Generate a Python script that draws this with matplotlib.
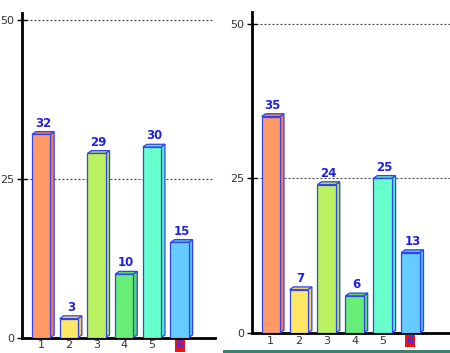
import matplotlib
matplotlib.use("Agg")
import matplotlib.pyplot as plt
from matplotlib.patches import Polygon, Rectangle

# data
categories = ["1", "2", "3", "4", "5", "6"]
left_values = [32, 3, 29, 10, 30, 15]
right_values = [35, 7, 24, 6, 25, 13]
y_ticks = [0, 25, 50]

front_colors = ["#ff9966", "#ffe766", "#bbf060", "#66ee77", "#66ffcc", "#66ccff"]
side_colors = ["#f08050", "#f0d050", "#a8e050", "#55dd66", "#55eebb", "#55bbf0"]
edge_col = "#3344ee"

W, H = 450, 353
fig = plt.figure(figsize=(W / 100, H / 100), dpi=100)
fig.patch.set_facecolor("white")


def px_axes(left, right, top, bottom):
    # pixel box (from top-left) -> figure fraction
    return fig.add_axes([left / W, (H - bottom) / H, (right - left) / W, (bottom - top) / H])


def draw_chart(ax, values, xlim, ylim, grid_right, px_per_x, px_per_y):
    ax.set_xlim(*xlim)
    ax.set_ylim(*ylim)
    w = 0.655
    dx = 4.0 / px_per_x
    dy = 2.8 / px_per_y
    for i, v in enumerate(values):
        x = i + 1
        x0, x1 = x - w / 2, x + w / 2
        side = Polygon([(x1, 0), (x1 + dx, dy), (x1 + dx, v + dy), (x1, v)],
                       closed=True, facecolor=side_colors[i], edgecolor=edge_col, lw=0.9, zorder=3)
        top = Polygon([(x0, v), (x0 + dx, v + dy), (x1 + dx, v + dy), (x1, v)],
                      closed=True, facecolor=side_colors[i], edgecolor=edge_col, lw=0.9, zorder=3)
        front = Rectangle((x0, 0), w, v, facecolor=front_colors[i], edgecolor=edge_col, lw=0.9, zorder=4)
        ax.add_patch(side)
        ax.add_patch(top)
        ax.add_patch(front)
        ax.text(x + dx / 2, v + dy + 0.3, str(v), ha="center", va="bottom",
                color="#2222dd", fontsize=8.5, fontweight="bold", zorder=5)

    for g in (25, 50):
        ax.plot([xlim[0], grid_right], [g, g], color="#444444", lw=0.8,
                ls=(0, (1.8, 1.8)), zorder=1, clip_on=False)

    for s in ("top", "right"):
        ax.spines[s].set_visible(False)
    ax.spines["left"].set_linewidth(2)
    ax.spines["bottom"].set_linewidth(2)
    ax.set_yticks(y_ticks)
    ax.set_yticklabels([str(t) for t in y_ticks], fontsize=8, color="#333333")
    ax.tick_params(axis="y", direction="inout", length=7, width=1, pad=2)
    ax.set_xticks(range(1, len(categories) + 1))
    ax.set_xticklabels(categories, fontsize=8, color="#333333")
    ax.tick_params(axis="x", length=0, pad=2)
    lab = ax.get_xticklabels()[-1]
    lab.set_color("#3030ff")
    lab.set_fontweight("bold")
    lab.set_bbox(dict(facecolor="#ee1111", edgecolor="none", pad=0.8))
    ax.patch.set_alpha(0)


# left chart
ax1 = px_axes(22, 215, 13, 337.7)
draw_chart(ax1, left_values, (0.31, 7.28), (0, 51.1), 7.2, 27.7, 317.7 / 50)

# right chart
ax2 = px_axes(251.7, 450, 12, 333)
draw_chart(ax2, right_values, (0.315, 7.42), (0, 51.9), 7.42, 27.9, 309 / 50)

# bottom strip under the right chart
fig.add_artist(Rectangle((223 / W, 0), (W - 223) / W, 3 / H, transform=fig.transFigure,
                         facecolor="#3f7f6f", edgecolor="none"))

fig.savefig("out.png", dpi=100)
